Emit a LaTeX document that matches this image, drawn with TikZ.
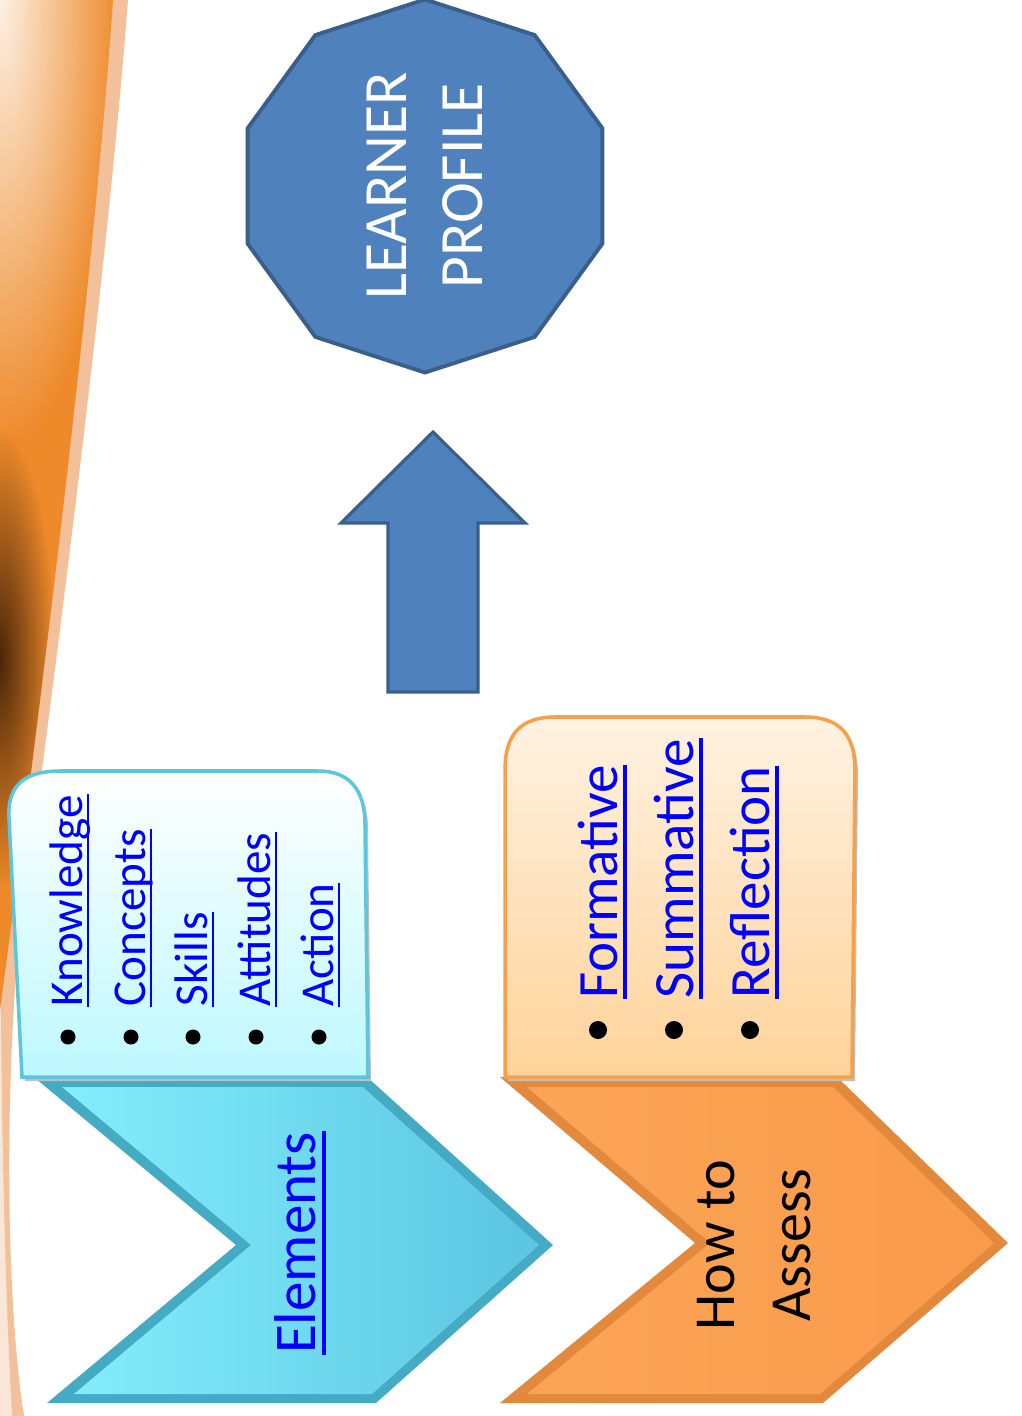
\documentclass[tikz,border=0pt]{standalone}
\usepackage{fontspec}
\setmainfont{Carlito}
\usetikzlibrary{shapes.geometric, fadings}
\definecolor{profileblue}{HTML}{4F81BD}
\definecolor{profileedge}{HTML}{3A5F8B}
\definecolor{linkblue}{HTML}{0000FF}
\definecolor{cyanedge}{HTML}{45AAC4}
\definecolor{cyanleft}{HTML}{84EEFC}
\definecolor{cyanright}{HTML}{5BC5E2}
\definecolor{cyancard}{HTML}{BDF8FF}
\definecolor{cyanline}{HTML}{5CC6DE}
\definecolor{orangeedge}{HTML}{E2893D}
\definecolor{orangeleft}{HTML}{FBA457}
\definecolor{orangeright}{HTML}{F99B4A}
\definecolor{orangecard}{HTML}{FFD39A}
\definecolor{orangeline}{HTML}{F5A04A}
\definecolor{swooshpeach}{HTML}{F2C09A}
\definecolor{swooshorange}{HTML}{EE8A2A}
\definecolor{swooshcream}{HTML}{FDF1E4}
\definecolor{swooshbrown}{HTML}{4A2608}
\tikzfading[name=swooshglow, inner color=transparent!0, outer color=transparent!100]
\begin{document}
\begin{tikzpicture}[x=0.01cm, y=-0.01cm,
    smallitem/.style={rotate=90, anchor=base west, inner sep=0pt, text=linkblue,
                      font=\fontsize{13.4}{16}\selectfont},
    bigitem/.style={rotate=90, anchor=base west, inner sep=0pt, text=linkblue,
                    font=\fontsize{16.2}{19}\selectfont},
    ulsmall/.style={linkblue, line width=0.8pt},
    ulbig/.style={linkblue, line width=0.95pt}]
    \useasboundingbox (0,0) rectangle (1021,1416);
    \fill[white] (0,0) rectangle (1021,1416);

    % background swoosh
    \fill[swooshpeach] (0,0) -- (128,0) .. controls (105,300) and (45,750) .. (18,950)
        .. controls (5,1100) and (6,1300) .. (24,1416) -- (0,1416) -- cycle;
    \fill[white!60!swooshpeach] (0,960) .. controls (2,1100) and (3,1250) .. (12,1416) -- (0,1416) -- cycle;
    \begin{scope}
        \clip (0,0) -- (113,0) .. controls (92,300) and (35,750) .. (0,1010) -- cycle;
        \fill[swooshorange] (0,0) rectangle (130,1100);
        \fill[swooshcream, path fading=swooshglow] (0,0) circle[x radius=1.2cm, y radius=4.5cm];
        \fill[swooshbrown, path fading=swooshglow] (0,660) circle[x radius=0.55cm, y radius=2.3cm];
    \end{scope}

    % learner profile
    \node[regular polygon, regular polygon sides=10, minimum size=3.7cm, rotate=90,
          fill=profileblue, draw=profileedge, line width=1.1pt, text=white, align=center,
          font=\fontsize{17.5}{21.6}\selectfont] (profile) at (425,186) {LEARNER\\PROFILE};

    % up arrow
    \fill[profileblue, draw=profileedge, line width=0.9pt]
        (433,432) -- (525,523) -- (478,523) -- (478,692) -- (388,692) -- (388,523) -- (341,523) -- cycle;

    % elements chevron
    \fill[cyanedge] (35,1078) -- (367,1077) -- (553,1245) -- (376,1403) -- (47,1403) -- (236,1245) -- cycle;
    \shade[left color=cyanleft, right color=cyanright]
        (62,1087) -- (363,1087) -- (539,1245) -- (372,1394) -- (74,1394) -- (251,1245) -- cycle;
    \fill[black!25, shift={(3,4)}]
        (22,1077) -- (9,818) .. controls (7,785) and (25,771) .. (60,771)
        -- (318,771) .. controls (350,771) and (365,790) .. (365,825) -- (368,1077) -- cycle;
    \fill[top color=white, bottom color=cyancard, draw=cyanline, line width=1pt]
        (22,1077) -- (9,818) .. controls (7,785) and (25,771) .. (60,771)
        -- (318,771) .. controls (350,771) and (365,790) .. (365,825) -- (368,1077) -- cycle;
    \node[rotate=90, inner sep=0pt, anchor=base, text=linkblue,
          font=\fontsize{16.8}{20}\selectfont] (elements) at (315,1243) {Elements};
    \draw[ulbig] ([xshift=0.9mm]elements.base west) -- ([xshift=0.9mm]elements.base east);
    \foreach \word/\xb [count=\i] in {Knowledge/82, Concepts/145, Skills/207, Attitudes/270, Action/333} {
        \node[smallitem] (elem\i) at (\xb,1007) {\word};
        \draw[ulsmall] ([xshift=0.6mm]elem\i.base west) -- ([xshift=0.6mm]elem\i.base east);
        \fill (\xb-14,1037) circle[radius=0.75mm];
    }

    % how to assess chevron
    \fill[orangeedge] (500,1077) -- (837,1077) -- (1008,1243) -- (823,1403) -- (500,1403) -- (695,1243) -- cycle;
    \shade[left color=orangeleft, right color=orangeright]
        (527,1087) -- (833,1087) -- (994,1243) -- (820,1394) -- (527,1394) -- (710,1243) -- cycle;
    \fill[black!25, shift={(3,4)}]
        (505,1077) -- (505,770) .. controls (505,735) and (520,717) .. (555,717)
        -- (805,717) .. controls (840,717) and (855,735) .. (855,770) -- (852,1077) -- cycle;
    \fill[top color=white!70!orangecard, bottom color=orangecard, draw=orangeline, line width=1pt]
        (505,1077) -- (505,770) .. controls (505,735) and (520,717) .. (555,717)
        -- (805,717) .. controls (840,717) and (855,735) .. (855,770) -- (852,1077) -- cycle;
    \node[rotate=90, inner sep=0pt, align=center,
          font=\fontsize{16.5}{21.6}\selectfont] (assess) at (754,1245) {How to\\Assess};
    \foreach \word/\xb [count=\i] in {Formative/617, Summative/693, Reflection/769} {
        \node[bigitem] (assess\i) at (\xb,999) {\word};
        \draw[ulbig] ([xshift=0.8mm]assess\i.base west) -- ([xshift=0.8mm]assess\i.base east);
        \fill (\xb-19,1030) circle[radius=0.9mm];
    }
\end{tikzpicture}
\end{document}
